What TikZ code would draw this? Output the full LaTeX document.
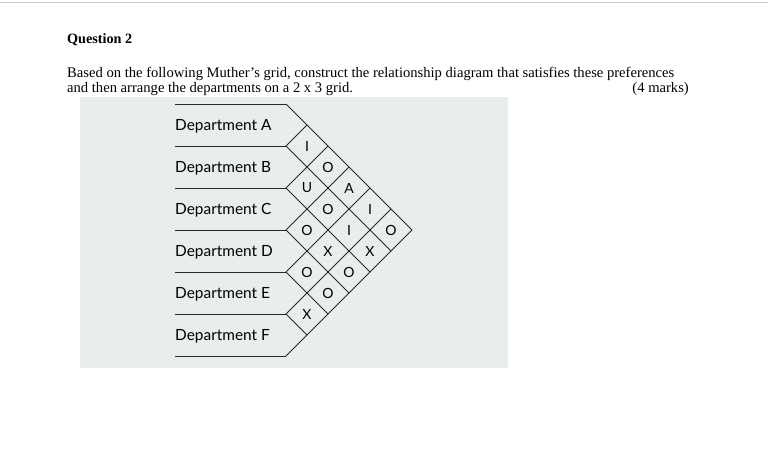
\documentclass[tikz,border=0pt]{standalone}
\usepackage{fontspec}
\setmainfont{Liberation Serif}
\newfontfamily\deptfont{Lato}
\definecolor{panelgray}{RGB}{233,238,236}
\definecolor{rulegray}{RGB}{200,200,200}
\definecolor{gridline}{RGB}{40,40,40}
\begin{document}
\begin{tikzpicture}[x=1pt,y=-1pt,
  headtxt/.style={inner sep=0pt,font=\fontsize{14.6}{16}\selectfont},
  depttxt/.style={inner sep=0pt,anchor=west,font=\deptfont\fontsize{15.4}{18}\selectfont},
  celltxt/.style={inner sep=0pt,font=\deptfont\fontsize{14}{16}\selectfont},
  gridln/.style={draw=gridline,line width=0.8pt}]
\useasboundingbox (0,0) rectangle (768,448);
% top rule
\draw[rulegray,line width=1pt] (0,2) -- (768,2);
% heading
\node[headtxt,anchor=base west,font=\bfseries\fontsize{14.2}{16}\selectfont] (q) at (67,43) {Question 2};
\node[headtxt,anchor=base west] (l1) at (67,77) {Based on the following Muther’s grid, construct the relationship diagram that satisfies these preferences};
\node[headtxt,anchor=base west] (l2) at (67,92.5) {and then arrange the departments on a 2 x 3 grid.};
\node[headtxt,anchor=base east] (mk) at (689,92.5) {(4 marks)};
% panel
\fill[panelgray] (80,97) rectangle (508,368);
% horizontal lines and department labels
\foreach \k in {0,...,6}{
  \draw[gridln] (175,104+42*\k) -- (286,104+42*\k);
}
\foreach \n/\k in {A/0,B/1,C/2,D/3,E/4,F/5}{
  \node[depttxt] (dep\n) at (175,126.5+42*\k) {Department \n};
}
% grid lines
\foreach \k in {0,...,5}{
  % down-right line from left vertex k to bottom-right edge (x+y=642)
  \draw[gridln] (286,104+42*\k) -- ({(642-104-42*\k+286)/2+0},{(642+104+42*\k-286)/2});
}
\foreach \k in {1,...,6}{
  % up-right line from left vertex k to top edge (x-y=182)
  \draw[gridln] (286,104+42*\k) -- ({(286+104+42*\k+182)/2},{(286+104+42*\k-182)/2});
}
% cell letters: i, j, letter
\foreach \i/\j/\t in {0/1/I,0/2/O,1/2/U,0/3/A,1/3/O,2/3/O,0/4/I,1/4/I,2/4/X,3/4/O,0/5/O,1/5/X,2/5/O,3/5/O,4/5/X}{
  \node[celltxt] (c\i\j) at ({286+21*(\j-\i)},{104+21*(\i+\j+1)}) {\t};
}
\end{tikzpicture}
\end{document}
